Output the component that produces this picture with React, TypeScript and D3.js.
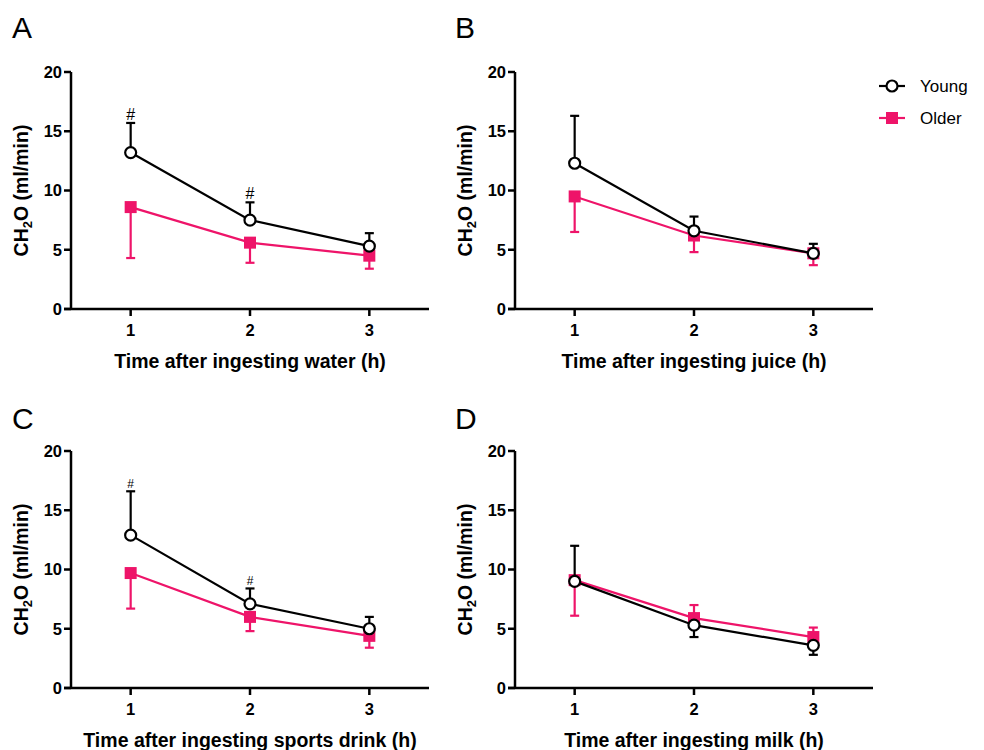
import React from "react";
import * as d3 from "d3";

const timePoints = [1, 2, 3];
const panelLetters = ["A", "B", "C", "D"];
const xTitles = [
  "Time after ingesting water (h)",
  "Time after ingesting juice (h)",
  "Time after ingesting sports drink (h)",
  "Time after ingesting milk (h)",
];
const yTicks = [0, 5, 10, 15, 20];
const seriesNames = ["Young", "Older"];

// means and error-bar end values per panel (A, B, C, D)
const youngMean = [
  [13.2, 7.5, 5.3],
  [12.3, 6.6, 4.7],
  [12.9, 7.1, 5.0],
  [9.0, 5.3, 3.6],
];
const youngErrEnd = [
  [15.7, 9.0, 6.4],
  [16.3, 7.8, 5.5],
  [16.6, 8.4, 6.0],
  [12.0, 4.3, 2.8],
];
const olderMean = [
  [8.6, 5.6, 4.5],
  [9.5, 6.2, 4.7],
  [9.7, 6.0, 4.4],
  [9.1, 5.9, 4.3],
];
const olderErrEnd = [
  [4.3, 3.9, 3.4],
  [6.5, 4.8, 3.7],
  [6.7, 4.8, 3.4],
  [6.1, 7.0, 5.1],
];
const youngSig = [
  [true, true, false],
  [false, false, false],
  [true, true, false],
  [false, false, false],
];
const hashSizes = [16, 16, 12, 12];

const PINK = "#ee1469";
const FONT = "'Liberation Sans', Arial, Helvetica, sans-serif";

const panelLeft = [71, 515, 71, 515];
const panelTop = [72, 72, 451, 451];
const W = 358;
const H = 237;

function Panel({ i }: { i: number }) {
  const left = panelLeft[i];
  const top = panelTop[i];
  const x = d3.scaleLinear().domain([0.5, 3.5]).range([left, left + W]);
  const y = d3.scaleLinear().domain([0, 20]).range([top + H, top]);
  const line = d3
    .line<number>()
    .x((_, k) => x(timePoints[k]))
    .y((d) => y(d));
  const cap = 4.5;
  const letterX = i % 2 === 0 ? 12 : 455;
  const letterY = i < 2 ? 38 : 429;

  const errBars = (means: number[], ends: number[], color: string) =>
    means.map((m, k) => (
      <g key={k} stroke={color} strokeWidth={2.2}>
        <line x1={x(timePoints[k])} x2={x(timePoints[k])} y1={y(m)} y2={y(ends[k])} />
        <line x1={x(timePoints[k]) - cap} x2={x(timePoints[k]) + cap} y1={y(ends[k])} y2={y(ends[k])} />
      </g>
    ));

  return (
    <g>
      <text x={letterX} y={letterY} fontSize={30} fontFamily={FONT} fill="#000">
        {panelLetters[i]}
      </text>
      {/* y axis */}
      <line x1={left} x2={left} y1={y(0)} y2={y(20)} stroke="#000" strokeWidth={2.5} />
      {yTicks.map((t) => (
        <g key={t}>
          <line x1={left - 7} x2={left} y1={y(t)} y2={y(t)} stroke="#000" strokeWidth={2.5} />
          <text
            x={left - 9}
            y={y(t)}
            dy="0.36em"
            textAnchor="end"
            fontSize={16.5}
            fontWeight="bold"
            fontFamily={FONT}
          >
            {t}
          </text>
        </g>
      ))}
      {/* x axis */}
      <line x1={left - 7} x2={left + W} y1={y(0)} y2={y(0)} stroke="#000" strokeWidth={2.5} />
      {timePoints.map((t) => (
        <g key={t}>
          <line x1={x(t)} x2={x(t)} y1={y(0)} y2={y(0) + 7} stroke="#000" strokeWidth={2.5} />
          <text x={x(t)} y={y(0) + 27} textAnchor="middle" fontSize={16.5} fontWeight="bold" fontFamily={FONT}>
            {t}
          </text>
        </g>
      ))}
      <text
        x={x(2)}
        y={y(0) + 59}
        textAnchor="middle"
        fontSize={19.5}
        fontWeight="bold"
        fontFamily={FONT}
      >
        {xTitles[i]}
      </text>
      <text
        transform={`translate(${left - 43},${top + H / 2}) rotate(-90)`}
        textAnchor="middle"
        fontSize={19.5}
        fontWeight="bold"
        fontFamily={FONT}
      >
        CH
        <tspan fontSize={13} dy={4}>
          2
        </tspan>
        <tspan dy={-4}>O (ml/min)</tspan>
      </text>

      {/* Older series */}
      {errBars(olderMean[i], olderErrEnd[i], PINK)}
      <path d={line(olderMean[i]) || ""} fill="none" stroke={PINK} strokeWidth={2.2} />
      {olderMean[i].map((m, k) => (
        <rect key={k} x={x(timePoints[k]) - 6} y={y(m) - 6} width={12} height={12} fill={PINK} />
      ))}

      {/* Young series */}
      {errBars(youngMean[i], youngErrEnd[i], "#000")}
      <path d={line(youngMean[i]) || ""} fill="none" stroke="#000" strokeWidth={2.2} />
      {youngMean[i].map((m, k) => (
        <circle key={k} cx={x(timePoints[k])} cy={y(m)} r={5.5} fill="#fff" stroke="#000" strokeWidth={2.2} />
      ))}

      {youngSig[i].map((s, k) =>
        s ? (
          <text
            key={k}
            x={x(timePoints[k])}
            y={y(youngErrEnd[i][k]) - 3}
            textAnchor="middle"
            fontSize={hashSizes[i]}
            fontFamily={FONT}
          >
            #
          </text>
        ) : null
      )}
    </g>
  );
}

function Legend() {
  const lx = 879;
  const rows = [86, 118];
  return (
    <g>
      {seriesNames.map((name, k) => (
        <g key={name}>
          <line x1={lx} x2={lx + 26} y1={rows[k]} y2={rows[k]} stroke={k === 0 ? "#000" : PINK} strokeWidth={2.2} />
          {k === 0 ? (
            <circle cx={lx + 13} cy={rows[k]} r={5.5} fill="#fff" stroke="#000" strokeWidth={2.2} />
          ) : (
            <rect x={lx + 13 - 6} y={rows[k] - 6} width={12} height={12} fill={PINK} />
          )}
          <text x={920} y={rows[k]} dy="0.36em" fontSize={17} fontFamily={FONT}>
            {name}
          </text>
        </g>
      ))}
    </g>
  );
}

export default function App() {
  return (
    <svg
      width={984}
      height={750}
      style={{ position: "absolute", left: 0, top: 0, background: "#fff" }}
    >
      <rect width={984} height={750} fill="#fff" />
      {[0, 1, 2, 3].map((i) => (
        <Panel key={i} i={i} />
      ))}
      <Legend />
    </svg>
  );
}
